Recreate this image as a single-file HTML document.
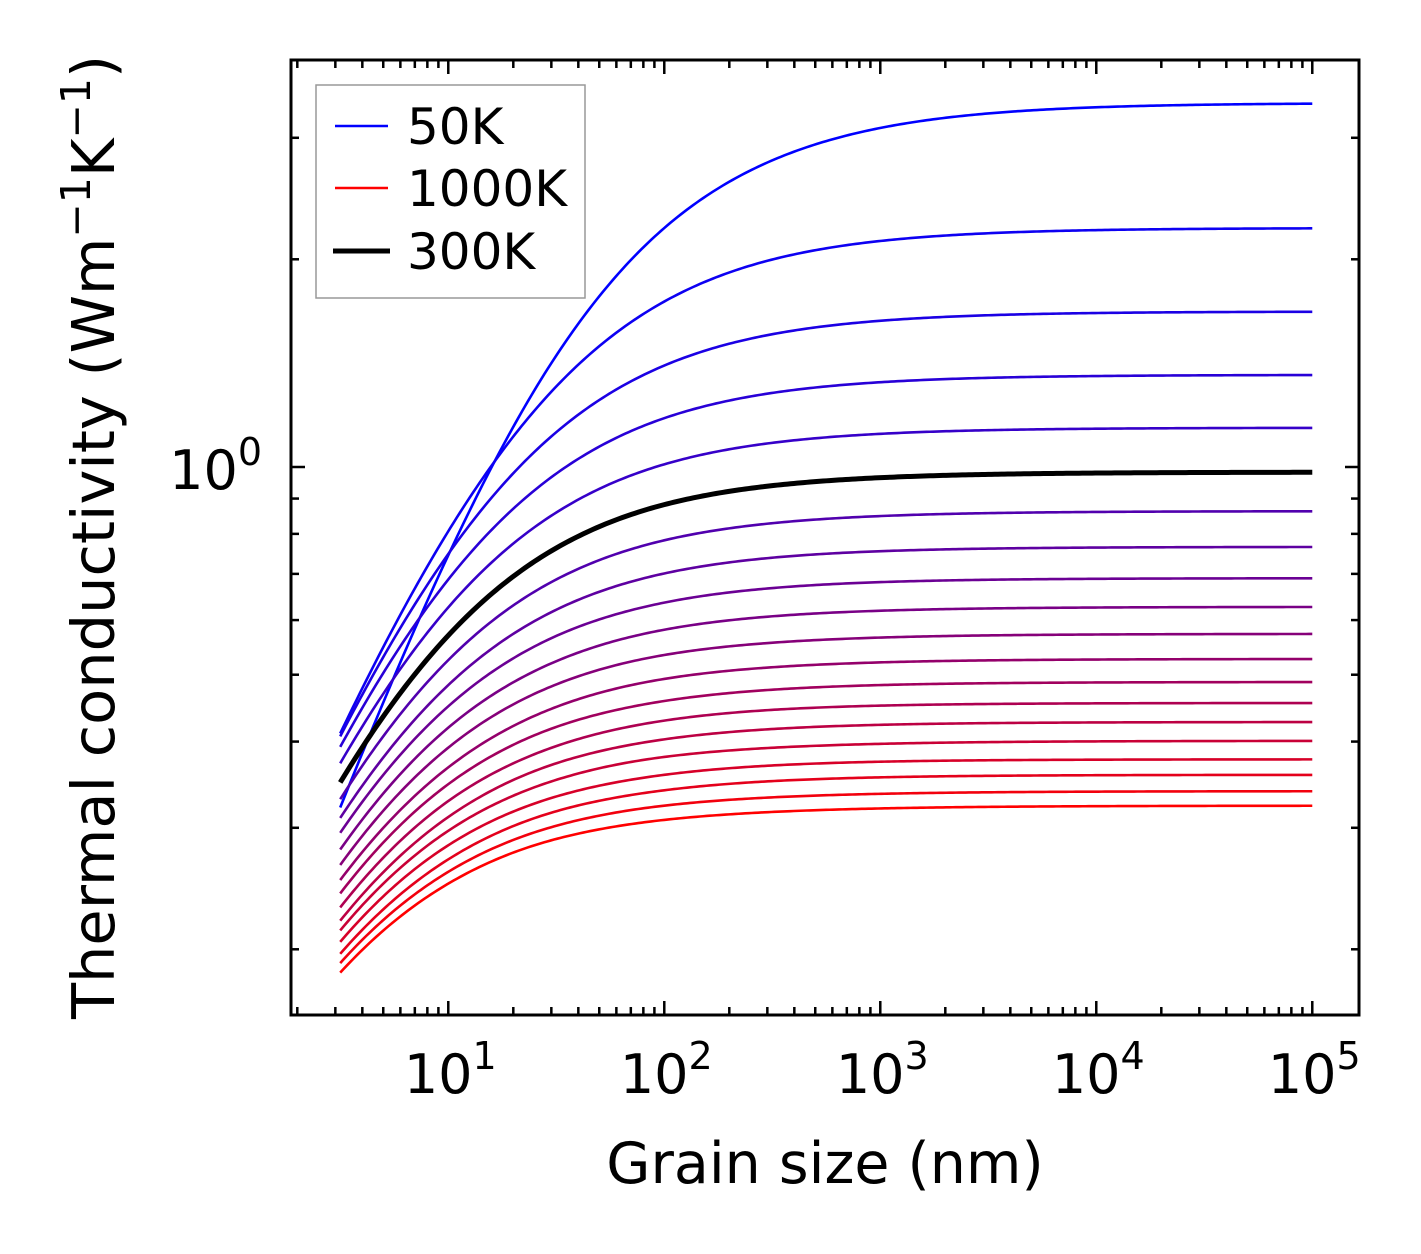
<!DOCTYPE html>
<html><head><meta charset="utf-8"><style>
body{margin:0;background:#fff}
svg{display:block;font-family:"DejaVu Sans","Liberation Sans",sans-serif}
</style></head><body>
<svg id="chart" width="1421" height="1254" viewBox="0 0 1421 1254" xmlns="http://www.w3.org/2000/svg">
<rect width="1421" height="1254" fill="#fff"/>
<g id="curves"></g>
<g id="ticks"></g>
<rect x="291" y="60" width="1068" height="955" fill="none" stroke="#000" stroke-width="3"/>
<g id="xlabels" font-size="54" text-anchor="middle"></g>
<g font-size="54" text-anchor="end">
<text x="262" y="489">10<tspan dy="-24" font-size="38">0</tspan></text>
</g>
<text x="825" y="1183" font-size="57" text-anchor="middle">Grain size (nm)</text>
<text transform="translate(114,537) rotate(-90)" font-size="59" text-anchor="middle">Thermal conductivity (Wm<tspan dy="-24" font-size="41">−1</tspan><tspan dy="24">K</tspan><tspan dy="-24" font-size="41">−1</tspan><tspan dy="24">)</tspan></text>
<g>
<rect x="316" y="85" width="269" height="213" fill="#fff" stroke="#999" stroke-width="1.5"/>
<line x1="335" y1="126" x2="388" y2="126" stroke="#0000ff" stroke-width="2.5"/>
<text x="407" y="144" font-size="50">50K</text>
<line x1="335" y1="188" x2="388" y2="188" stroke="#ff0000" stroke-width="2.5"/>
<text x="407" y="206" font-size="50">1000K</text>
<line x1="333" y1="251" x2="390" y2="251" stroke="#000" stroke-width="5"/>
<text x="407" y="269" font-size="50">300K</text>
</g>
</svg>
<script>
const grainSizes = [3.16, 10, 31.6, 100, 1000, 100000];
const temperatures = [50,100,150,200,250,300,350,400,450,500,550,600,650,700,750,800,850,900,950,1000];
const k50 = [0.321,0.745,1.45,2.22,3.10,3.37];
const k100 = [0.411,0.807,1.308,1.737,2.126,2.22];
const k150 = [0.407,0.748,1.123,1.403,1.629,1.68];
const k200 = [0.393,0.687,0.978,1.177,1.327,1.36];
const k250 = [0.372,0.626,0.859,1.009,1.117,1.14];
const k300 = [0.349,0.570,0.763,0.882,0.965,0.983];
const k350 = [0.330,0.525,0.687,0.783,0.849,0.863];
const k400 = [0.310,0.483,0.621,0.701,0.755,0.766];
const k450 = [0.295,0.450,0.569,0.636,0.681,0.690];
const k500 = [0.279,0.419,0.523,0.581,0.619,0.627];
const k550 = [0.265,0.392,0.484,0.534,0.566,0.573];
const k600 = [0.252,0.367,0.449,0.493,0.521,0.527];
const k650 = [0.241,0.347,0.420,0.458,0.483,0.488];
const k700 = [0.230,0.328,0.394,0.429,0.451,0.455];
const k750 = [0.220,0.311,0.372,0.403,0.423,0.427];
const k800 = [0.213,0.297,0.352,0.380,0.397,0.401];
const k850 = [0.205,0.283,0.333,0.358,0.374,0.377];
const k900 = [0.197,0.270,0.317,0.340,0.355,0.358];
const k950 = [0.191,0.259,0.302,0.323,0.336,0.339];
const k1000 = [0.185,0.249,0.289,0.308,0.320,0.323];
const series = [k50,k100,k150,k200,k250,k300,k350,k400,k450,k500,k550,k600,k650,k700,k750,k800,k850,k900,k950,k1000];
const xTickLabels = ["1","2","3","4","5"];

const NS="http://www.w3.org/2000/svg";
const X0=291,X1=1359,Y0=60,Y1=1015;
const xMinLog=Math.log10(1.87),xMaxLog=Math.log10(1.87)+(X1-X0)/216;
const yMaxLog=(467-Y0)/690, yMinLog=(467-Y1)/690;
function xs(v){return X0+(Math.log10(v)-xMinLog)/(xMaxLog-xMinLog)*(X1-X0);}
function ys(v){return Y1-(Math.log10(v)-yMinLog)/(yMaxLog-yMinLog)*(Y1-Y0);}

function monotone(xa,ya){
  const n=xa.length,d=[],m=new Array(n);
  for(let i=0;i<n-1;i++)d.push((ya[i+1]-ya[i])/(xa[i+1]-xa[i]));
  m[0]=d[0];m[n-1]=d[n-2];
  for(let i=1;i<n-1;i++){m[i]=(d[i-1]*d[i]<=0)?0:2/(1/d[i-1]+1/d[i]);}
  return function(x){
    let i=0;while(i<n-2&&x>xa[i+1])i++;
    const h=xa[i+1]-xa[i],t=(x-xa[i])/h,t2=t*t,t3=t2*t;
    return (2*t3-3*t2+1)*ya[i]+(t3-2*t2+t)*h*m[i]+(-2*t3+3*t2)*ya[i+1]+(t3-t2)*h*m[i+1];
  };
}
const g=document.getElementById('curves');
const lx=grainSizes.map(v=>Math.log10(v));
function drawCurve(idx,color,w){
  const vals=series[idx];
  const kInf=vals[vals.length-1];
  const nIn=vals.length-1;
  const ux=lx.slice(0,nIn);
  const u=vals.slice(0,nIn).map(v=>Math.log10(Math.max(kInf/v-1,1e-4)));
  const f=monotone(ux,u);
  const slope=(u[nIn-1]-u[nIn-2])/(ux[nIn-1]-ux[nIn-2]);
  let d="";
  for(let j=0;j<=300;j++){
    const L=lx[0]+(lx[lx.length-1]-lx[0])*j/300;
    let uu;
    if(L<=ux[nIn-1]) uu=f(L); else uu=u[nIn-1]+slope*(L-ux[nIn-1]);
    const v=kInf/(1+Math.pow(10,uu));
    d+=(j?"L":"M")+xs(Math.pow(10,L)).toFixed(2)+","+ys(v).toFixed(2);
  }
  const p=document.createElementNS(NS,'path');
  p.setAttribute('d',d);p.setAttribute('fill','none');p.setAttribute('stroke',color);
  p.setAttribute('stroke-width',w);
  
  
  g.appendChild(p);
}
const n=series.length;
for(let i=0;i<n;i++){
  if(temperatures[i]===300)continue;
  const t=i/(n-1);
  drawCurve(i,`rgb(${Math.round(255*t)},0,${Math.round(255*(1-t))})`,2.6);
}
drawCurve(temperatures.indexOf(300),'#000',5);

const tg=document.getElementById('ticks');
function tick(x1,y1,x2,y2,name){
  const l=document.createElementNS(NS,'line');
  l.setAttribute('x1',x1);l.setAttribute('y1',y1);l.setAttribute('x2',x2);l.setAttribute('y2',y2);
  l.setAttribute('stroke','#000');l.setAttribute('stroke-width','2.5');
  
  
  tg.appendChild(l);
}
for(let e=0;e<=5;e++)for(let m=1;m<10;m++){
  const v=m*Math.pow(10,e);const x=xs(v);
  if(x<X0+1||x>X1-1)continue;
  const len=m===1?14:8;
  tick(x,Y1,x,Y1-len,'x-tick');tick(x,Y0,x,Y0+len,'x-tick-top');
}
[0.2,0.3,0.4,0.5,0.6,0.7,0.8,0.9,1,2,3].forEach(v=>{
  const y=ys(v);const len=v===1?14:8;
  tick(X0,y,X0+len,y,'y-tick');tick(X1,y,X1-len,y,'y-tick-right');
});
const xl=document.getElementById('xlabels');
xTickLabels.forEach((s,i)=>{
  const t=document.createElementNS(NS,'text');
  t.setAttribute('x',xs(Math.pow(10,i+1))+2);t.setAttribute('y',1093);
  
  
  t.innerHTML='10<tspan dy="-24" font-size="38">'+s+'</tspan>';
  xl.appendChild(t);
});
</script>
</body></html>
